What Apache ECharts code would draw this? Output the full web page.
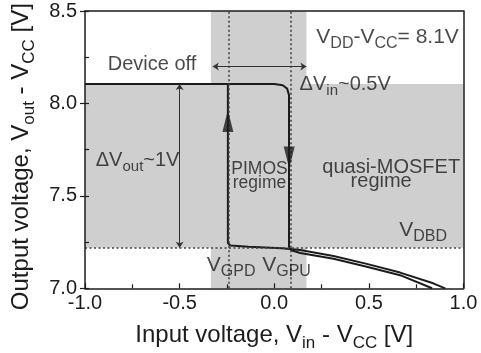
<!DOCTYPE html>
<html><head><meta charset="utf-8">
<script src="https://cdn.jsdelivr.net/npm/echarts@6/dist/echarts.min.js"></script>
<style>html,body{margin:0;padding:0;background:#fff}#c{width:481px;height:353px}</style>
</head><body><div id="c"></div>
<script>
// ---- data ----
const xTickValues = [-1, -0.5, 0, 0.5, 1];
const xTickLabels = ['-1.0', '-0.5', '0.0', '0.5', '1.0'];
const yTickValues = [7, 7.5, 8, 8.5];
const yTickLabels = ['7.0', '7.5', '8.0', '8.5'];

// sweep with Vin increasing (drops at V_GPU)
const sweepDown = [[-1, 8.105], [0.0, 8.105], [0.045, 8.098], [0.068, 8.08], [0.078, 8.045], [0.078, 7.225],
  [0.09, 7.206], [0.137, 7.191], [0.313, 7.160], [0.489, 7.117], [0.665, 7.071], [0.834, 7.0]];
// sweep with Vin decreasing (rises at V_GPD)
const sweepUp = [[0.903, 7.0], [0.84, 7.027], [0.665, 7.085], [0.489, 7.132], [0.313, 7.175], [0.137, 7.207],
  [0.04, 7.217], [-0.137, 7.225], [-0.232, 7.232], [-0.245, 7.245], [-0.245, 8.105], [-1, 8.105]];

const vDBD = 7.22, vOn = 8.105;
const vGPD = -0.243, vGPU = 0.085;
const shadeBand = [[-1, vDBD], [1, vOn]];
const shadeColumn = [[-0.335, 7.0], [0.17, 8.5]];
const dVinArrow = [[-0.325, 8.2], [0.17, 8.2]];
const dVoutArrow = [[-0.5, vOn], [-0.5, vDBD]];
const arrowUp = [-0.245, 7.905];
const arrowDown = [0.079, 7.708];

const annotations = [
  {pos: [-0.646, 8.213], text: 'Device off', size: 20},
  {pos: [0.599, 8.357], text: 'V{s|DD}-V{s|CC}= 8.1V', size: 21},
  {pos: [0.375, 8.105], text: '\u0394V{s|in}~0.5V', size: 20},
  {pos: [-0.722, 7.694], text: '\u0394V{s|out}~1V', size: 20},
  {pos: [-0.078, 7.643], text: 'PIMOS', size: 17.5},
  {pos: [-0.078, 7.568], text: 'regime', size: 17.5},
  {pos: [0.618, 7.655], text: 'quasi-MOSFET', size: 20},
  {pos: [0.565, 7.577], text: 'regime', size: 20},
  {pos: [0.787, 7.316], text: 'V{s|DBD}', size: 21},
  {pos: [-0.228, 7.126], text: 'V{s|GPD}', size: 21},
  {pos: [0.065, 7.126], text: 'V{s|GPU}', size: 21}
];

const FONT = '"Liberation Sans", Arial, sans-serif';
const INK = '#1c1c1c';
const GRAY = '#cfcfcf';

const chart = echarts.init(document.getElementById('c'), null, {renderer: 'canvas'});
const fmtX = v => { const i = xTickValues.findIndex(t => Math.abs(t - v) < 1e-9); return i >= 0 ? xTickLabels[i] : ''; };
const fmtY = v => { const i = yTickValues.findIndex(t => Math.abs(t - v) < 1e-9); return i >= 0 ? yTickLabels[i] : ''; };
const axisLine = {show: true, onZero: false, lineStyle: {color: INK, width: 1.5}};

chart.setOption({
  animation: false,
  backgroundColor: '#fff',
  grid: {left: 85, right: 17.5, top: 11, bottom: 64.7, containLabel: false, outerBoundsMode: 'none'},
  xAxis: [{
    type: 'value', min: -1, max: 1, interval: 0.5, z: 10,
    axisLine: axisLine,
    axisTick: {inside: true, length: 5, lineStyle: {color: INK, width: 1.2}},
    minorTick: {show: true, splitNumber: 2, length: 4, lineStyle: {color: INK, width: 1.2}},
    splitLine: {show: false},
    axisLabel: {fontSize: 20, fontFamily: FONT, color: INK, margin: 5, formatter: fmtX},
    name: 'Input voltage, V{s|in} - V{s|CC} [V]', nameLocation: 'middle', nameGap: 30,
    nameTextStyle: {fontSize: 24, fontFamily: FONT, color: INK, lineHeight: 34,
      rich: {s: {fontSize: 17, fontFamily: FONT, color: INK, lineHeight: 24, verticalAlign: 'bottom'}}}
  }, {
    type: 'value', position: 'top', min: -1, max: 1, z: 10,
    axisLine: axisLine, axisTick: {show: false}, axisLabel: {show: false}, splitLine: {show: false}
  }],
  yAxis: [{
    type: 'value', min: 7, max: 8.5, interval: 0.5, z: 10,
    axisLine: axisLine,
    axisTick: {inside: false, length: 5, lineStyle: {color: INK, width: 1.2}},
    splitLine: {show: false},
    axisLabel: {fontSize: 20, fontFamily: FONT, color: INK, margin: 8, formatter: fmtY},
    name: 'Output voltage, V{s|out} - V{s|CC} [V]', nameLocation: 'middle', nameGap: 43,
    nameTextStyle: {fontSize: 24, fontFamily: FONT, color: INK, lineHeight: 34, padding: [0, 14, 0, 0],
      rich: {s: {fontSize: 17, fontFamily: FONT, color: INK, lineHeight: 24, verticalAlign: 'bottom'}}}
  }, {
    type: 'value', position: 'right', min: 7, max: 8.5, z: 10,
    axisLine: axisLine, axisTick: {show: false}, axisLabel: {show: false}, splitLine: {show: false}
  }, {
    type: 'value', position: 'left', min: 7, max: 8.5, interval: 0.25, z: 10,
    axisLine: {show: false, onZero: false}, axisTick: {inside: true, length: 4, lineStyle: {color: INK, width: 1.2}},
    axisLabel: {show: false}, splitLine: {show: false}
  }],
  series: [
    {
      type: 'line', data: [], z: 1, silent: true,
      markArea: {silent: true, itemStyle: {color: GRAY, opacity: 1},
        data: [
          [{coord: shadeBand[0]}, {coord: shadeBand[1]}],
          [{coord: shadeColumn[0]}, {coord: shadeColumn[1]}]
        ]},
      markLine: {silent: true, symbol: ['none', 'none'], label: {show: false},
        lineStyle: {color: '#444', type: [2, 2.5], width: 1.6},
        data: [
          [{coord: [-1, vDBD]}, {coord: [1, vDBD]}],
          [{coord: [vGPD, 7]}, {coord: [vGPD, 8.5]}],
          [{coord: [vGPU, 7]}, {coord: [vGPU, 8.5]}]
        ]}
    },
    {
      type: 'line', data: [], z: 3, silent: true,
      markLine: {silent: true, symbol: ['arrow', 'arrow'], symbolSize: 6, label: {show: false},
        lineStyle: {color: '#333', type: 'solid', width: 1},
        data: [
          [{coord: dVinArrow[0]}, {coord: dVinArrow[1]}],
          [{coord: dVoutArrow[0]}, {coord: dVoutArrow[1]}]
        ]}
    },
    {type: 'line', data: sweepDown, showSymbol: false, symbol: 'none', z: 4, silent: true,
      lineStyle: {color: INK, width: 2}},
    {type: 'line', data: sweepUp, showSymbol: false, symbol: 'none', z: 4, silent: true,
      lineStyle: {color: INK, width: 2}},
    {type: 'scatter', z: 5, silent: true, symbol: 'triangle', symbolSize: [11, 22],
      itemStyle: {color: INK},
      data: [{value: arrowUp, symbolRotate: 0}, {value: arrowDown, symbolRotate: 180}]},
    {type: 'scatter', z: 6, silent: true, symbolSize: 0,
      data: annotations.map(a => ({
        value: a.pos,
        label: {show: true, position: [0, 0], align: 'center', verticalAlign: 'middle',
          formatter: a.text, fontSize: a.size, fontFamily: FONT, color: INK,
          lineHeight: Math.round(a.size + 8),
          rich: {s: {fontSize: Math.round(a.size * 0.74), fontFamily: FONT, color: INK,
            lineHeight: a.size, verticalAlign: 'bottom'}}}
      }))}
  ]
});
</script></body></html>
